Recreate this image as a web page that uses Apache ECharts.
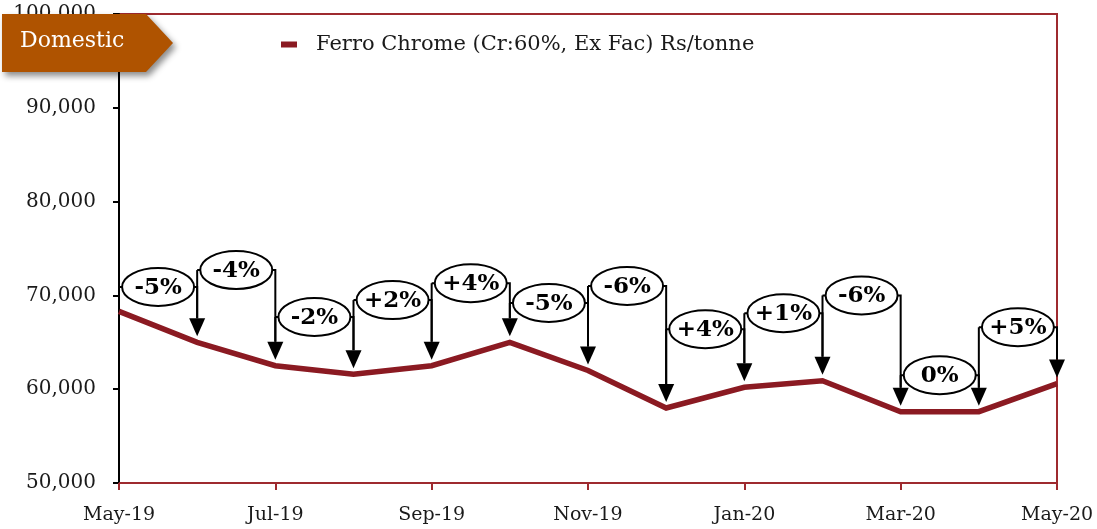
<!DOCTYPE html>
<html><head><meta charset="utf-8">
<script src="https://cdn.jsdelivr.net/npm/echarts@6/dist/echarts.min.js"></script>
<style>html,body{margin:0;padding:0;background:#fff}#c{width:1097px;height:529px}</style>
</head><body><div id="c"></div><script>
const categories = ['May-19','Jun-19','Jul-19','Aug-19','Sep-19','Oct-19','Nov-19','Dec-19','Jan-20','Feb-20','Mar-20','Apr-20','May-20'];
const prices = [68300,65000,62500,61600,62500,65000,62000,58000,60200,60900,57600,57600,60600];
const changeLabels = ['-5%','-4%','-2%','+2%','+4%','-5%','-6%','+4%','+1%','-6%','0%','+5%'];
const labelLevels = [70900,72700,67700,69500,71300,69200,71000,66400,68100,70000,61500,66600];
const seriesName = 'Ferro Chrome (Cr:60%, Ex Fac) Rs/tonne';
const bannerText = 'Domestic';

const FONT = '"DejaVu Serif", serif';
const chart = echarts.init(document.getElementById('c'), null, {renderer: 'canvas'});

const annoData = changeLabels.map((l, k) => [k + 1, prices[k + 1], labelLevels[k]]);

function renderAnno(params, api) {
  const i = api.value(0);
  const v = api.value(1);
  const lv = api.value(2);
  const pPrev = api.coord([i - 1, lv]);
  const pCur = api.coord([i, lv]);
  const tip = api.coord([i, v]);
  const tipY = tip[1] - 6;
  const ah = 18, aw = 8;
  const children = [];
  if (i > 1) {
    const prevTip = api.coord([i - 1, prices[i - 1]]);
    children.push({type: 'line', shape: {x1: pPrev[0], y1: pPrev[1], x2: pPrev[0], y2: prevTip[1] - 6 - ah},
      style: {stroke: '#000', lineWidth: 2}});
  }
  children.push({type: 'polyline', shape: {points: [[pPrev[0], pPrev[1]], [pCur[0], pCur[1]], [pCur[0], tipY - ah]]},
    style: {stroke: '#000', lineWidth: 2, fill: null}});
  children.push({type: 'polygon', shape: {points: [[pCur[0] - aw, tipY - ah], [pCur[0] + aw, tipY - ah], [pCur[0], tipY]]},
    style: {fill: '#000'}});
  const cx = (pPrev[0] + pCur[0]) / 2;
  children.push({type: 'ellipse', shape: {cx: cx, cy: pCur[1], rx: 36, ry: 19},
    style: {fill: '#fff', stroke: '#000', lineWidth: 2}});
  children.push({type: 'text', style: {text: changeLabels[params.dataIndex], x: cx, y: pCur[1] + 1,
    align: 'center', verticalAlign: 'middle', font: 'bold 23px ' + FONT, fill: '#000'}});
  return {type: 'group', children: children};
}

const option = {
  animation: false,
  backgroundColor: '#fff',
  grid: {left: 119, right: 40, top: 14, bottom: 46, show: true, borderColor: '#9E2A2F', borderWidth: 2, backgroundColor: 'transparent'},
  legend: {
    data: [seriesName], left: 276, top: 29, icon: 'rect', itemWidth: 16, itemHeight: 6,
    textStyle: {fontFamily: FONT, fontSize: 21, color: '#1a1a1a', padding: [0, 0, 0, 14]}
  },
  xAxis: {
    type: 'category', data: categories, boundaryGap: false,
    axisLine: {lineStyle: {color: '#9E2A2F', width: 2}},
    axisTick: {interval: 1, length: 7, lineStyle: {color: '#9E2A2F', width: 2}},
    axisLabel: {interval: 1, margin: 23, fontFamily: FONT, fontSize: 19, color: '#1a1a1a', showMaxLabel: true}
  },
  yAxis: {
    type: 'value', min: 50000, max: 100000, interval: 10000,
    splitLine: {show: false},
    axisLine: {show: true, lineStyle: {color: '#000', width: 2}},
    axisTick: {show: true, length: 6, lineStyle: {color: '#000', width: 2}},
    axisLabel: {margin: 23, fontFamily: FONT, fontSize: 20, color: '#1a1a1a',
      formatter: v => v.toLocaleString('en-US')}
  },
  series: [
    {name: seriesName, type: 'line', data: prices, symbol: 'none', color: '#8B1A22',
      lineStyle: {width: 5.5, color: '#8B1A22', join: 'miter'}, z: 3},
    {name: 'changes', type: 'custom', data: annoData, renderItem: renderAnno, clip: false, z: 5,
      encode: {x: 0, y: 1}}
  ],
  graphic: [
    {type: 'polygon', z: 100, shape: {points: [[2, 14], [146, 14], [173, 43], [146, 72], [2, 72]]},
      style: {fill: '#AF5300', shadowBlur: 6, shadowOffsetX: 3, shadowOffsetY: 4, shadowColor: 'rgba(0,0,0,0.45)'}},
    {type: 'text', z: 101, left: 20, top: 30, style: {text: bannerText, font: '22px ' + FONT, fill: '#fff'}}
  ]
};
chart.setOption(option);
</script></body></html>
